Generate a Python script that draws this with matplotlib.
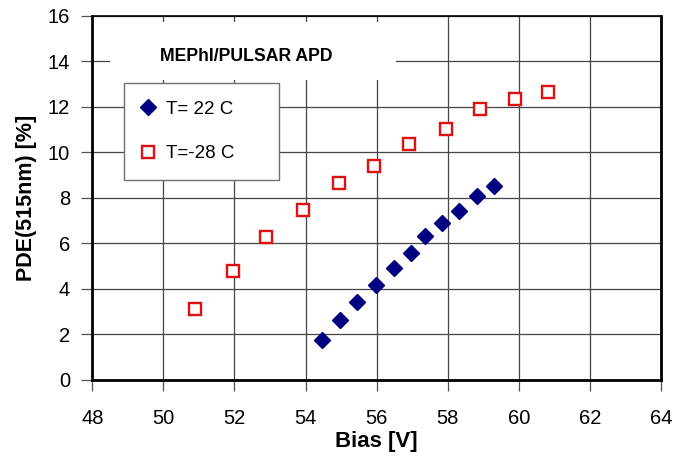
import matplotlib
matplotlib.use("Agg")
import matplotlib.pyplot as plt
from matplotlib.patches import Rectangle

plt.rcParams['font.family'] = ['Liberation Sans', 'DejaVu Sans']

# T = 22 C
bias_warm = [54.47, 54.96, 55.44, 55.99, 56.48, 56.96, 57.37, 57.85, 58.33, 58.82, 59.30]
pde_warm = [1.78, 2.64, 3.41, 4.18, 4.92, 5.58, 6.34, 6.89, 7.43, 8.08, 8.52]

# T = -28 C
bias_cold = [50.9, 51.95, 52.9, 53.94, 54.93, 55.94, 56.9, 57.94, 58.9, 59.88, 60.81]
pde_cold = [3.12, 4.77, 6.28, 7.48, 8.67, 9.42, 10.36, 11.03, 11.9, 12.33, 12.65]

xticks = list(range(48, 65, 2))
yticks = list(range(0, 17, 2))

fig = plt.figure(figsize=(6.99, 4.57), dpi=100)
ax = fig.add_axes([0.132, 0.1685, 0.8136, 0.7965])

ax.plot(bias_warm, pde_warm, linestyle='none', marker='D', markersize=8.5,
        color='#000080', label='T= 22 C', zorder=4)
ax.plot(bias_cold, pde_cold, linestyle='none', marker='s', markersize=9,
        markerfacecolor='white', markeredgecolor='#e01010', markeredgewidth=1.7,
        label='T=-28 C', zorder=4)

ax.set_xlim(48, 64)
ax.set_ylim(0, 16)
ax.set_xticks(xticks)
ax.set_yticks(yticks)
ax.set_axisbelow(True)
ax.grid(True, color='#454545', linewidth=0.9)

for side in ['left', 'bottom', 'right']:
    ax.spines[side].set_linewidth(2.0)
ax.spines['top'].set_linewidth(1.2)
ax.tick_params(axis='both', direction='out', length=8, width=0.9,
               color='#505050', labelsize=14.5)
ax.tick_params(axis='x', pad=13)
ax.tick_params(axis='y', pad=8)

# white box behind the caption
ax.add_patch(Rectangle((48.5, 13.2), 8.05, 2.55, facecolor='white',
                       edgecolor='none', zorder=2))
ax.text(52.32, 14.22, 'MEPhI/PULSAR APD', fontsize=12.7, fontweight='bold',
        ha='center', va='center', zorder=3)

leg = ax.legend(loc='upper left', bbox_to_anchor=(0.0557, 0.55, 0.272, 0.266),
                mode='expand', frameon=True, fancybox=False, borderaxespad=0,
                fontsize=13.5, labelspacing=1.45, borderpad=0.95,
                handletextpad=0.6, handlelength=0.7)
leg.get_frame().set_edgecolor('#707070')
leg.get_frame().set_linewidth(1.0)
leg.get_frame().set_alpha(1)
leg.set_zorder(5)

ax.set_xlabel('Bias [V]', fontsize=16, fontweight='bold', labelpad=2)
ax.set_ylabel('PDE(515nm) [%]', fontsize=15.5, fontweight='bold', labelpad=8)

fig.savefig('out.png', dpi=100)
